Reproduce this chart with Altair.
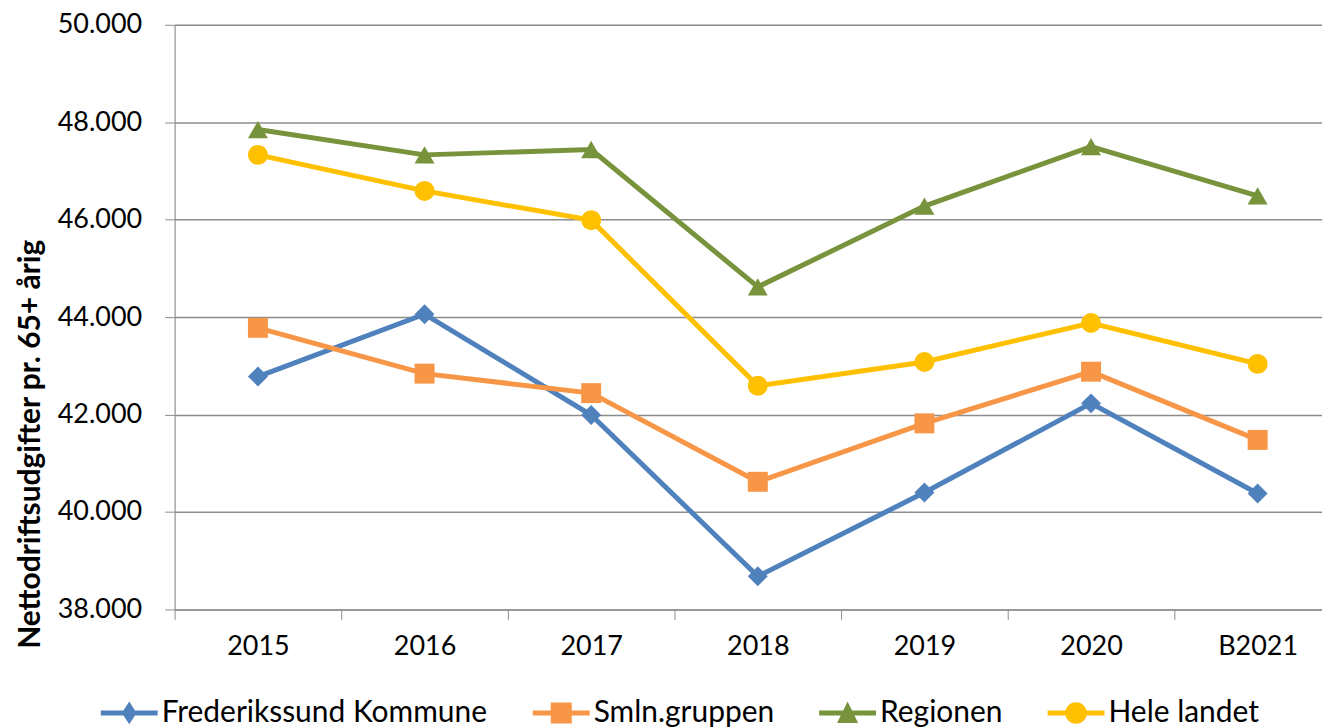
import altair as alt
import pandas as pd

years = ["2015", "2016", "2017", "2018", "2019", "2020", "B2021"]
series_names = ["Frederikssund Kommune", "Smln.gruppen", "Regionen", "Hele landet"]
frederikssund = [42780, 44060, 41990, 38680, 40400, 42230, 40380]
smln = [43780, 42840, 42440, 40620, 41820, 42880, 41480]
regionen = [47850, 47330, 47440, 44620, 46280, 47500, 46490]
hele_landet = [47330, 46590, 45990, 42590, 43080, 43880, 43040]
colors = ["#4F81BD", "#F79646", "#77933C", "#FFC000"]
shapes = ["diamond", "square", "triangle-up", "circle"]

# legend symbols: a short line with the series marker in the middle
bar = "M-1,-0.09H1V0.09H-1Z"
legend_paths = [
    bar + "M0,-0.4L0.26,0L0,0.4L-0.26,0Z",
    bar + "M-0.37,-0.37H0.37V0.37H-0.37Z",
    bar + "M0,-0.4L0.37,0.35H-0.37Z",
    bar + "M-0.38,0A0.38,0.38 0 1,1 0.38,0A0.38,0.38 0 1,1 -0.38,0Z",
]

rows = []
for name, vals in zip(series_names, [frederikssund, smln, regionen, hele_landet]):
    for y, v in zip(years, vals):
        rows.append({"year": y, "value": v, "series": name})
df = pd.DataFrame(rows)

grid = "#8c8c8c"
xenc = alt.X("year:N", sort=years, title=None,
             scale=alt.Scale(paddingInner=0, paddingOuter=0, range=[0, 1169]),
             axis=alt.Axis(labelAngle=0, tickBand="extent", tickSize=10, tickColor=grid,
                           domainColor=grid, labelPadding=14, labelFont="Lato",
                           labelFontSize=27, labelColor="#000000", grid=False))
yenc = alt.Y("value:Q", title="Nettodriftsudgifter pr. 65+ årig",
             scale=alt.Scale(domain=[38000, 50000], nice=False, zero=False),
             axis=alt.Axis(values=[38000, 40000, 42000, 44000, 46000, 48000, 50000],
                           format=",.0f", tickSize=10, tickColor=grid, domainColor=grid,
                           gridColor=grid, gridWidth=1.5, labelPadding=23,
                           labelFont="Lato", labelFontSize=27, labelColor="#000000",
                           titleFont="Lato", titleFontSize=30, titleFontWeight="bold",
                           titleColor="#000000", titleX=-144, titleY=420,
                           titleAngle=270, titleAlign="center", titleBaseline="middle"))
cscale = alt.Scale(domain=series_names, range=colors)

leg = alt.Legend(title=None, orient="none", direction="horizontal",
                 legendX=-74, legendY=661, padding=0, labelFont="Lato",
                 labelFontSize=30, labelColor="#000000", labelLimit=0,
                 symbolSize=3249, symbolOpacity=1, symbolStrokeWidth=0,
                 labelOffset=4, columnPadding=45)

lines = alt.Chart(df).mark_line(strokeWidth=5).encode(
    x=xenc, y=yenc,
    color=alt.Color("series:N", sort=series_names, scale=cscale, legend=leg),
    detail="series:N")

point_layers = []
for name, shp in zip(series_names, shapes):
    point_layers.append(
        alt.Chart(df).transform_filter(alt.datum.series == name)
        .mark_point(filled=True, opacity=1, size=400, shape=shp)
        .encode(x=xenc, y=yenc,
                color=alt.Color("series:N", sort=series_names, scale=cscale, legend=leg))
    )

legend_layer = alt.Chart(df).mark_point(filled=True, opacity=0).encode(
    x=xenc, y=yenc,
    color=alt.Color("series:N", sort=series_names, scale=cscale, legend=leg),
    shape=alt.Shape("series:N", sort=series_names,
                    scale=alt.Scale(domain=series_names, range=legend_paths), legend=leg))

chart = alt.layer(lines, *point_layers, legend_layer).properties(
    width=1150, height=586,
    autosize=alt.AutoSizeParams(type="none"),
    padding={"left": 167, "top": 16, "right": 0, "bottom": 118},
).configure_view(stroke=None).configure(
    locale={"number": {"decimal": ",", "thousands": ".", "grouping": [3], "currency": ["", " kr."]}}
)

chart.save("out.html", embed_options={"renderer": "svg", "actions": False})
